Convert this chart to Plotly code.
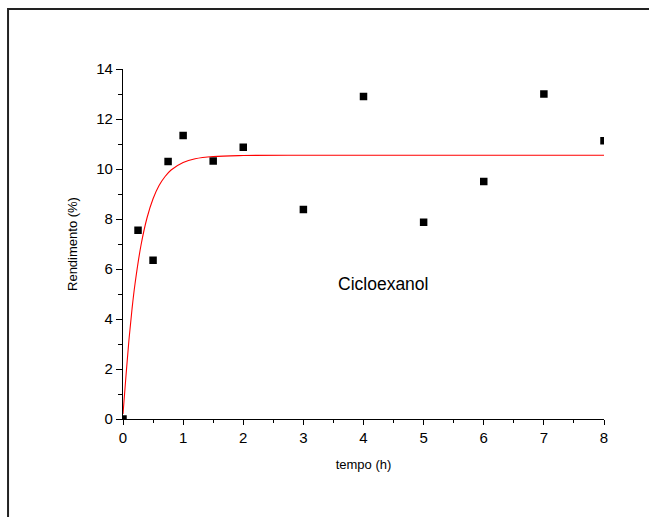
import plotly.graph_objects as go

# Measured yield of cyclohexanol over time
tempo_h = [0, 0.25, 0.5, 0.75, 1, 1.5, 2, 3, 4, 5, 6, 7, 8]
rendimento = [0.0, 7.55, 6.35, 10.3, 11.34, 10.32, 10.87, 8.38, 12.9, 7.87, 9.5, 13.0, 11.13]

# Fitted kinetic curve, sampled points
fit_t = [0, 0.05, 0.1, 0.15, 0.2, 0.3, 0.4, 0.5, 0.6, 0.7, 0.8, 1.0, 1.2, 1.5, 2, 3, 4, 5, 6, 7, 8]
fit_y = [0.2, 1.74, 3.19, 4.4, 5.41, 6.96, 8.05, 8.81, 9.34, 9.7, 9.96, 10.26, 10.41, 10.5,
         10.54, 10.55, 10.55, 10.55, 10.55, 10.55, 10.55]

x_ticks = [0, 1, 2, 3, 4, 5, 6, 7, 8]
y_ticks = [0, 2, 4, 6, 8, 10, 12, 14]

FONT = "Arial, 'Liberation Sans', sans-serif"

fig = go.Figure()
fig.add_trace(go.Scatter(
    x=tempo_h, y=rendimento, mode="markers",
    marker=dict(symbol="square", size=7.5, color="black", line=dict(width=0)),
    showlegend=False, cliponaxis=True,
))
fig.add_trace(go.Scatter(
    x=fit_t, y=fit_y, mode="lines",
    line=dict(color="red", width=1.1, shape="spline"),
    showlegend=False,
))

axis_common = dict(
    showline=True, linecolor="black", linewidth=1.2,
    ticks="outside", tickcolor="black", tickwidth=1.2,
    showgrid=False, zeroline=False, mirror=False,
    tickfont=dict(family=FONT, size=15, color="black"),
)

fig.update_xaxes(
    range=[0, 8], tickvals=x_ticks, ticklen=5,
    minor=dict(dtick=0.5, tick0=0, ticks="outside", ticklen=3, tickcolor="black", tickwidth=1.2),
    title=dict(text="tempo (h)", font=dict(family=FONT, size=13, color="black"), standoff=14),
    **axis_common,
)
fig.update_yaxes(
    range=[0, 14], tickvals=y_ticks, ticklen=6,
    minor=dict(dtick=1, tick0=0, ticks="outside", ticklen=4, tickcolor="black", tickwidth=1.2),
    title=dict(text="Rendimento (%)", font=dict(family=FONT, size=13, color="black"), standoff=15),
    **axis_common,
)

fig.add_annotation(
    x=0.54, y=0.385, xref="paper", yref="paper",
    text="Cicloexanol", showarrow=False,
    font=dict(family=FONT, size=17.5, color="black"),
    xanchor="center", yanchor="middle",
)

# Outer frame (left and top edges visible inside the window)
fig.add_shape(type="path", xref="paper", yref="paper",
              path="M -0.239,-0.4 L -0.239,1.1714 L 1.2,1.1714",
              line=dict(color="#222", width=2))

fig.update_layout(
    width=649, height=517,
    margin=dict(l=123, r=45, t=69, b=98),
    paper_bgcolor="white", plot_bgcolor="white",
    font=dict(family=FONT, color="black"),
)

fig.write_html("out.html")
